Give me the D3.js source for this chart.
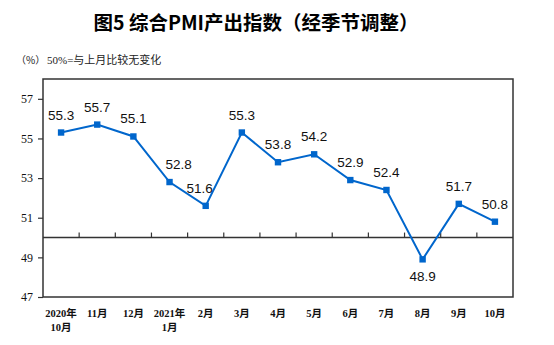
<!DOCTYPE html>
<html>
<head>
<meta charset="utf-8">
<script src="https://cdn.jsdelivr.net/npm/d3@7"></script>
<style>
  html, body { margin: 0; padding: 0; background: #fff; }
  svg { display: block; }
</style>
</head>
<body>
<svg id="chart" width="554" height="345"></svg>
<script>
const categories = ["2020年\n10月", "11月", "12月", "2021年\n1月", "2月", "3月", "4月", "5月", "6月", "7月", "8月", "9月", "10月"];
const values = [55.3, 55.7, 55.1, 52.8, 51.6, 55.3, 53.8, 54.2, 52.9, 52.4, 48.9, 51.7, 50.8];
const yTicks = [47, 49, 51, 53, 55, 57];
const baseline = 50;
const titleText = "图5 综合PMI产出指数（经季节调整）";
const unitText = "（%）";
const noteText = "50%=与上月比较无变化";

(function () {
const svg = d3.select("#chart");
const pLeft = 43, pRight = 513, pTop = 79, pBottom = 297;
const lineColor = "#0066cc";
const axisColor = "#333";

const x = d3.scaleBand().domain(d3.range(categories.length)).range([pLeft, pRight]).padding(0);
const y = d3.scaleLinear().domain([47, 58]).range([pBottom, pTop]);

// title
svg.append("text")
  .attr("x", 256).attr("y", 30)
  .attr("text-anchor", "middle")
  .attr("font-family", "'Noto Sans CJK SC', sans-serif")
  .attr("font-weight", "bold")
  .attr("font-size", 19.5)
  .attr("fill", "#000")
  .text(titleText);

svg.append("text")
  .attr("x", 16).attr("y", 64)
  .attr("font-family", "'Noto Sans CJK SC', sans-serif")
  .attr("font-size", 10)
  .attr("fill", "#222")
  .text(unitText);

svg.append("text")
  .attr("x", 47).attr("y", 64)
  .attr("font-family", "'Liberation Serif', 'Noto Sans CJK SC', serif")
  .attr("font-size", 11)
  .attr("fill", "#222")
  .text(noteText);

// frame
svg.append("rect")
  .attr("x", pLeft).attr("y", pTop)
  .attr("width", pRight - pLeft).attr("height", pBottom - pTop)
  .attr("fill", "none").attr("stroke", axisColor).attr("stroke-width", 1.5);

// y axis
const yAxis = d3.axisLeft(y).tickValues(yTicks).tickSize(5).tickPadding(5).tickFormat(d3.format("d"));
const gy = svg.append("g").attr("transform", `translate(${pLeft},0)`).call(yAxis);
gy.select(".domain").remove();
gy.selectAll("line").attr("stroke", axisColor).attr("stroke-width", 1.2);
gy.selectAll("text")
  .attr("font-family", "'Liberation Serif', serif")
  .attr("font-size", 12)
  .attr("fill", "#111");

// baseline axis at 50 with upward ticks at band boundaries
const by = y(baseline);
svg.append("line")
  .attr("x1", pLeft).attr("x2", pRight).attr("y1", by).attr("y2", by)
  .attr("stroke", axisColor).attr("stroke-width", 1.5);
const boundaries = d3.range(1, categories.length).map(i => x(i));
svg.append("g").selectAll("line").data(boundaries).join("line")
  .attr("x1", d => d).attr("x2", d => d)
  .attr("y1", by).attr("y2", by - 5)
  .attr("stroke", axisColor).attr("stroke-width", 1.2);

// x labels
const xl = svg.append("g").selectAll("text").data(categories).join("text")
  .attr("x", (d, i) => x(i) + x.bandwidth() / 2)
  .attr("y", 317)
  .attr("text-anchor", "middle")
  .attr("font-family", "'Liberation Serif', 'Noto Sans CJK SC', serif")
  .attr("font-weight", "bold")
  .attr("font-size", 10.5)
  .attr("fill", "#111");
xl.each(function(d) {
  const parts = d.split("\n");
  const t = d3.select(this);
  parts.forEach((p, k) => {
    t.append("tspan")
      .attr("x", t.attr("x"))
      .attr("dy", k === 0 ? 0 : 14)
      .text(p);
  });
});

// line
const cx = (d, i) => x(i) + x.bandwidth() / 2;
const line = d3.line().x((d, i) => cx(d, i)).y(d => y(d));
svg.append("path").datum(values)
  .attr("d", line)
  .attr("fill", "none")
  .attr("stroke", lineColor)
  .attr("stroke-width", 2);

svg.append("g").selectAll("rect").data(values).join("rect")
  .attr("x", (d, i) => cx(d, i) - 3.2)
  .attr("y", d => y(d) - 3.2)
  .attr("width", 6.4).attr("height", 6.4)
  .attr("fill", lineColor);

// data labels
const nudge = {3: 9, 4: -6};
svg.append("g").selectAll("text").data(values).join("text")
  .attr("x", (d, i) => cx(d, i) + (nudge[i] || 0))
  .attr("y", d => d < baseline ? y(d) + 22 : y(d) - 13)
  .attr("text-anchor", "middle")
  .attr("font-family", "'Liberation Sans', Arial, sans-serif")
  .attr("font-size", 13.5)
  .attr("fill", "#111")
  .text(d => d.toFixed(1));
})();
</script>
</body>
</html>
